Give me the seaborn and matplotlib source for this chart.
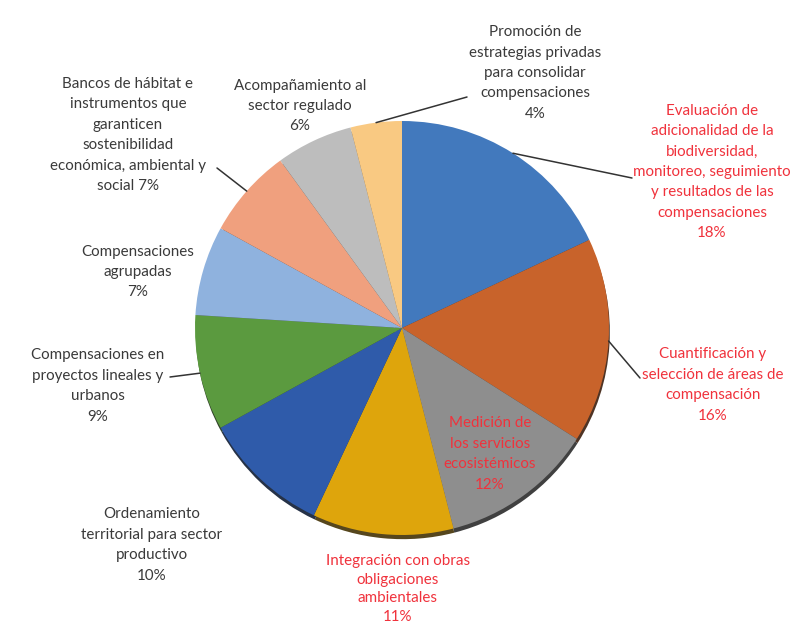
import numpy as np
import matplotlib
matplotlib.use("Agg")
import matplotlib.pyplot as plt
import seaborn as sns

categories = [
    "Evaluación de\nadicionalidad de la\nbiodiversidad,\nmonitoreo, seguimiento\ny resultados de las\ncompensaciones",
    "Cuantificación y\nselección de áreas de\ncompensación",
    "Medición de\nlos servicios\necosistémicos",
    "Integración con obras\nobligaciones\nambientales",
    "Ordenamiento\nterritorial para sector\nproductivo",
    "Compensaciones en\nproyectos lineales y\nurbanos",
    "Compensaciones\nagrupadas",
    "Bancos de hábitat e\ninstrumentos que\ngaranticen\nsostenibilidad\neconómica, ambiental y\nsocial",
    "Acompañamiento al\nsector regulado",
    "Promoción de\nestrategias privadas\npara consolidar\ncompensaciones",
]
values = [18, 16, 12, 11, 10, 9, 7, 7, 6, 4]
highlight = [True, True, True, True, False, False, False, False, False, False]
# "same line" percentage for Bancos label
inline_pct = [False, False, False, False, False, False, False, True, False, False]

colors = ["#4279BD", "#C8632B", "#8E8E8E", "#DEA50C", "#2F5BAA",
          "#5B9A3F", "#8FB2DE", "#F0A07E", "#BDBDBD", "#F9C982"]

sns.set_theme(style="white")
plt.rcParams['font.family'] = ['Lato', 'DejaVu Sans']

W, H = 799, 628
fig = plt.figure(figsize=(W / 100, H / 100), dpi=100)
ax = fig.add_axes([0, 0, 1, 1])

cx, cy, R = 402, H - 328, 207
palette = sns.color_palette(colors)
wedges, _ = ax.pie(values, colors=palette, startangle=90, counterclock=False,
                   radius=R, center=(cx, cy),
                   wedgeprops=dict(edgecolor="none", linewidth=0),
                   shadow={'ox': 0.6, 'oy': -3.0, 'alpha': 0.9})
ax.set_xlim(0, W)
ax.set_ylim(0, H)
ax.set_aspect("equal")
ax.axis("off")

# label layout: (center x, center y from top, leader end x, leader end y from top, line spacing)
layout = [
    (712, 172, 632, 178, 1.58),
    (713, 385, 640, 378, 1.58),
    (490, 454, None, None, 1.58),
    (398, 589, None, None, 1.45),
    (152, 545, None, None, 1.58),
    (98, 386, 170, 377, 1.58),
    (138, 272, None, None, 1.58),
    (128, 135, 217, 168, 1.58),
    (300, 106, None, None, 1.58),
    (535, 73, 467, 97, 1.58),
]

dark = "#3A3A3A"
red = "#F0323C"
for i, (lab, v) in enumerate(zip(categories, values)):
    txt = lab + (" " if inline_pct[i] else "\n") + f"{v}%"
    x, y, lx, ly, ls = layout[i]
    ax.text(x, H - y, txt, ha="center", va="center", fontsize=10.9,
            color=red if highlight[i] else dark, linespacing=ls)
    if lx is not None:
        w = wedges[i]
        mid = np.deg2rad((w.theta1 + w.theta2) / 2)
        ex, ey = cx + R * np.cos(mid), cy + R * np.sin(mid)
        ax.plot([ex, lx], [ey, H - ly], color="#333333", lw=1.1)

fig.savefig("out.png", dpi=100, facecolor="white")
